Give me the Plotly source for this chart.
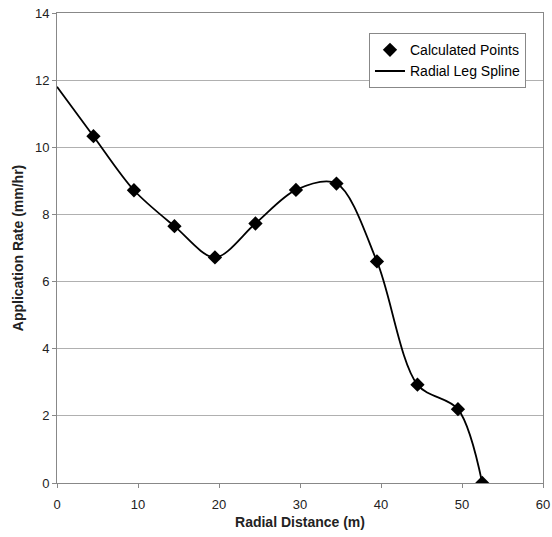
import plotly.graph_objects as go

radial_distance = [4.5, 9.5, 14.5, 19.5, 24.5, 29.5, 34.5, 39.5, 44.5, 49.5, 52.5]
application_rate = [10.33, 8.72, 7.65, 6.72, 7.73, 8.73, 8.92, 6.60, 2.93, 2.20, 0.0]
spline_x = [0.0] + radial_distance
spline_y = [11.8] + application_rate

x_ticks = [0, 10, 20, 30, 40, 50, 60]
y_ticks = [0, 2, 4, 6, 8, 10, 12, 14]

fig = go.Figure()
fig.add_trace(go.Scatter(
    x=radial_distance, y=application_rate, mode="markers",
    name="Calculated Points",
    marker=dict(symbol="diamond", size=11, color="black"),
))
fig.add_trace(go.Scatter(
    x=spline_x, y=spline_y, mode="lines", name="Radial Leg Spline",
    line=dict(color="black", width=1.8, shape="spline", smoothing=0.9),
))

font = "Liberation Sans, Arial, sans-serif"
fig.update_layout(
    width=552, height=537,
    margin=dict(l=57, r=9, t=13, b=54),
    paper_bgcolor="white", plot_bgcolor="white",
    font=dict(family=font, size=13, color="#222"),
    showlegend=True,
    legend=dict(
        x=0.965, y=0.957,
        xanchor="right", yanchor="top",
        bordercolor="#888", borderwidth=1, bgcolor="white",
        font=dict(size=14, color="black"), traceorder="normal",
        tracegroupgap=0, itemwidth=30,
    ),
    xaxis=dict(
        range=[0, 60], tickvals=x_ticks, showgrid=False, automargin=False,
        showline=True, linecolor="#888", linewidth=1, mirror=True,
        ticks="outside", ticklen=4, tickcolor="#888", ticklabelstandoff=5,
        zeroline=False,
        title=dict(text="<b>Radial Distance (m)</b>", font=dict(size=14, color="#222"), standoff=6),
    ),
    yaxis=dict(
        range=[0, 14], tickvals=y_ticks, showgrid=True, gridcolor="#b0b0b0", gridwidth=1,
        automargin=False,
        showline=True, linecolor="#888", linewidth=1, mirror=True,
        ticks="outside", ticklen=4, tickcolor="#888",
        zeroline=False,
        title=dict(text="<b>Application Rate (mm/hr)</b>", font=dict(size=14, color="#222"), standoff=8),
    ),
)

fig.write_html("out.html")
